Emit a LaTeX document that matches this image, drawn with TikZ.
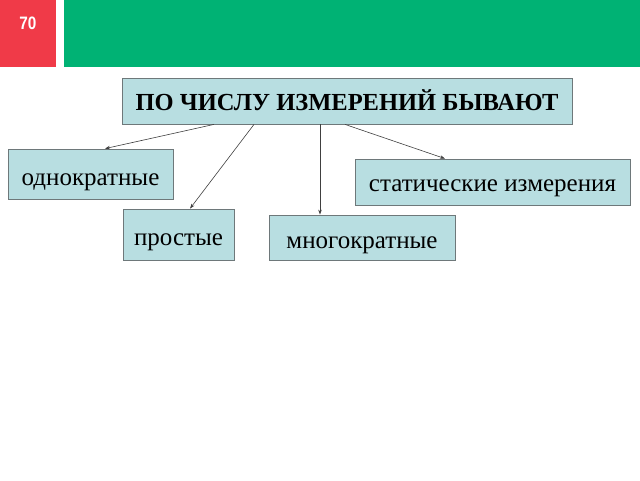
\documentclass[tikz,border=0pt]{standalone}
\usepackage{fontspec}
\setmainfont{Liberation Serif}
\newfontfamily\numfont{Liberation Sans}
\usetikzlibrary{arrows.meta}
\definecolor{boxfill}{RGB}{184,222,225}
\definecolor{boxline}{RGB}{110,120,122}
\definecolor{topgreen}{RGB}{0,178,116}
\definecolor{topred}{RGB}{240,58,72}
\begin{document}
\begin{tikzpicture}[x=1pt,y=-1pt,
  bx/.style={draw=boxline,fill=boxfill,line width=0.8pt,inner sep=0pt,text height=21pt,text depth=0pt,font=\fontsize{25}{27}\selectfont},
  conn/.style={draw=black!75,line width=0.6pt,-{Stealth[length=5pt,width=3.5pt]}}]
\useasboundingbox (0,0) rectangle (640,480);
\fill[white] (0,0) rectangle (640,480);
\fill[topred] (0,0) rectangle (56,67);
\fill[topgreen] (64,0) rectangle (640,67);
\node[text=white,font=\numfont\bfseries\fontsize{18}{20}\selectfont,xscale=0.85] (num) at (28,23) {70};
\node[bx,minimum width=450,minimum height=46,text height=18pt,font=\bfseries\fontsize{24.5}{27}\selectfont] (main) at (347,101) {ПО ЧИСЛУ ИЗМЕРЕНИЙ БЫВАЮТ};
\node[bx,minimum width=165,minimum height=50,text height=23pt] (a) at (90.5,174) {однократные};
\node[bx,minimum width=111,minimum height=51] (b) at (178.5,234.5) {простые};
\node[bx,minimum width=186,minimum height=45] (c) at (362,237.5) {многократные};
\node[bx,minimum width=275,minimum height=46,text height=19pt] (d) at (492.5,182) {статические измерения};
\draw[conn] (main.south -| 214,0) -- (a.north -| 105,0);
\draw[conn] (main.south -| 254,0) -- (b.north -| 190,0);
\draw[conn] (main.south -| 320,0) -- (c.north -| 320,0);
\draw[conn] (main.south -| 345,0) -- (d.north -| 445,0);
\end{tikzpicture}
\end{document}
